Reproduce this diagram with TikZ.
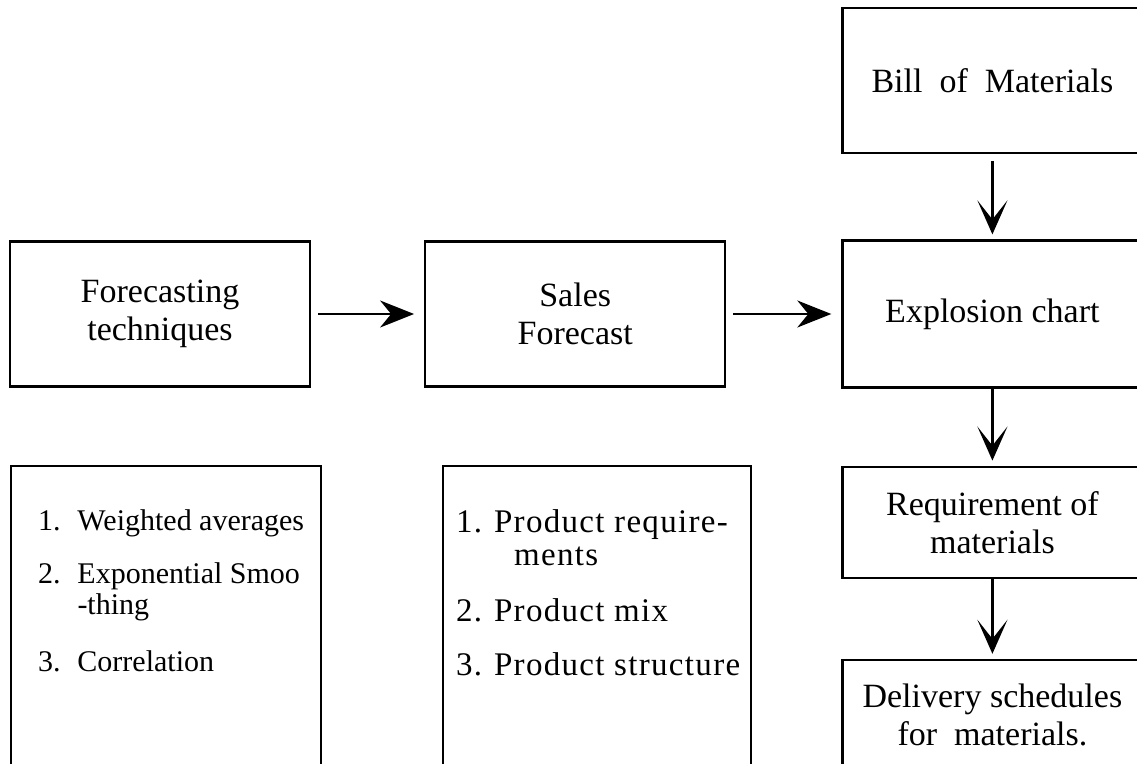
\documentclass[tikz,border=0pt]{standalone}
\usepackage{fontspec}
\setmainfont{Liberation Serif}
\newfontfamily\spacedserif[LetterSpace=4]{Liberation Serif}
\usetikzlibrary{arrows.meta,positioning}

\begin{document}
\begin{tikzpicture}[x=1pt,y=-1pt,>={Stealth[length=34pt,width=27pt,inset=11pt]},line width=2pt]
        \tikzstyle{block}=[draw,line width=2.2pt,minimum width=300pt,minimum height=145pt,align=center,font=\fontsize{34}{38}\selectfont]
        \tikzstyle{listbox}=[draw,line width=2.2pt,anchor=north west,minimum height=330pt]
        \tikzstyle{listtext}=[anchor=base west,inner sep=0pt,font=\fontsize{30}{31}\selectfont]
        \tikzstyle{hflow}=[->,shorten <=7pt,shorten >=10pt]
        \tikzstyle{vflow}=[-{Stealth[length=34pt,width=30pt,inset=19pt]},line width=3.2pt,shorten >=5pt]
        \useasboundingbox (0,0) rectangle (1137,763);
        \clip (0,0) rectangle (1137,763);
        \node[block] (fore) at (160,314) {Forecasting\\techniques};
        \node[block] (sales) [right=113pt of fore] {Sales\\Forecast};
        \node[block,minimum height=147pt] (expl) [right=115pt of sales] {Explosion chart};
        \node[block] (bom) [above=85pt of expl] {Bill\ \ of\ \ Materials};
        \node[block,minimum height=111pt] (req) [below=77pt of expl] {Requirement of\\materials};
        \node[block,minimum height=110pt] (deliv) [below=80pt of req] {Delivery schedules\\for\ \ materials.};
        \node[listbox,minimum width=310pt] (techbox) at (10,465) {};
        \node[listtext] (techlist) at (37,530) {\begin{tabular}[t]{@{}l@{\hspace{17pt}}l@{}}
            1. & Weighted averages\\[22pt]
            2. & Exponential Smoo\\
               & -thing\\[26pt]
            3. & Correlation
          \end{tabular}};
        \node[listbox,minimum width=308pt] (salesbox) at (442,465) {};
        \node[listtext,font=\spacedserif\fontsize{33}{31}\selectfont] (saleslist) at (455,532) {\begin{tabular}[t]{@{}l@{\hspace{12pt}}l@{}}
            1. & Product\ require-\\[2pt]
               & \hspace*{20pt}ments\\[24pt]
            2. & Product mix\\[22pt]
            3. & Product\ structure
          \end{tabular}};
    \path
        (fore) edge [hflow] (sales)
        (sales) edge [hflow] (expl)
        (bom) edge [vflow,shorten <=7pt] (expl)
        (expl) edge [vflow] (req)
        (req) edge [vflow] (deliv);
\end{tikzpicture}
\end{document}
